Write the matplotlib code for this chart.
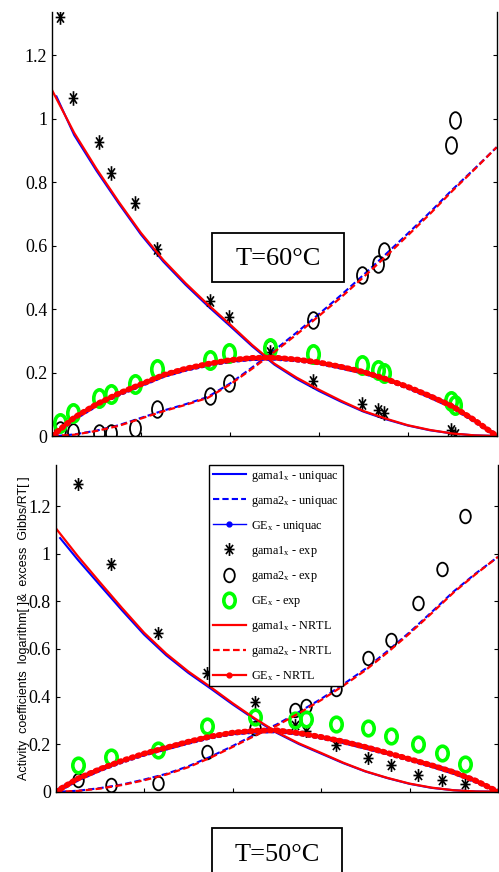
import numpy as np
import matplotlib.pyplot as plt
from matplotlib.lines import Line2D
from matplotlib.patches import Rectangle
from matplotlib.path import Path
from matplotlib.transforms import Affine2D

plt.rcParams['font.family'] = 'Liberation Serif'
plt.rcParams['mathtext.default'] = 'regular'

# Grilles de composition (fraction molaire x)
x_nrtl = [0.00, 0.05, 0.10, 0.15, 0.20, 0.25, 0.30, 0.35, 0.40, 0.45, 0.50,
          0.55, 0.60, 0.65, 0.70, 0.75, 0.80, 0.85, 0.90, 0.95, 1.00]
x_uniq = [0.01, 0.05, 0.10, 0.15, 0.20, 0.25, 0.30, 0.35, 0.40, 0.45, 0.50,
          0.55, 0.60, 0.65, 0.70, 0.75, 0.80, 0.85, 0.90, 0.95, 1.00]

# --- T = 60 C ---
gama1_nrtl_60 = [1.090, 0.955, 0.842, 0.738, 0.640, 0.555, 0.482, 0.415, 0.352, 0.287, 0.228,
                 0.184, 0.146, 0.111, 0.079, 0.055, 0.034, 0.019, 0.008, 0.002, 0.000]
gama2_nrtl_60 = [0.000, 0.004, 0.016, 0.032, 0.055, 0.078, 0.098, 0.120, 0.162, 0.212, 0.265,
                 0.320, 0.378, 0.437, 0.500, 0.565, 0.632, 0.700, 0.772, 0.840, 0.910]
ge_nrtl_60 = [0.000, 0.058, 0.100, 0.134, 0.163, 0.192, 0.212, 0.227, 0.239, 0.246, 0.247,
              0.241, 0.232, 0.218, 0.202, 0.180, 0.155, 0.126, 0.094, 0.050, 0.000]
gama1_uniq_60 = [1.070, 0.948, 0.836, 0.733, 0.635, 0.550, 0.477, 0.410, 0.347, 0.283, 0.225,
                 0.180, 0.142, 0.108, 0.077, 0.053, 0.033, 0.018, 0.008, 0.002, 0.000]
gama2_uniq_60 = [0.000, 0.005, 0.017, 0.034, 0.057, 0.080, 0.100, 0.123, 0.165, 0.216, 0.270,
                 0.326, 0.384, 0.444, 0.507, 0.572, 0.638, 0.705, 0.776, 0.842, 0.910]
ge_uniq_60 = [0.010, 0.056, 0.098, 0.132, 0.161, 0.190, 0.210, 0.225, 0.237, 0.244, 0.245,
              0.240, 0.231, 0.217, 0.201, 0.179, 0.154, 0.125, 0.093, 0.049, 0.000]

x_exp_60 = [0.018, 0.047, 0.106, 0.133, 0.187, 0.235, 0.355, 0.398, 0.490, 0.587,
            0.697, 0.732, 0.747, 0.897, 0.907]
gama1_exp_60 = [1.320, 1.065, 0.925, 0.830, 0.735, 0.590, 0.425, 0.376, 0.265, 0.173,
                0.100, 0.082, 0.072, 0.018, 0.005]
gama2_exp_60 = [0.018, 0.013, 0.010, 0.010, 0.025, 0.086, 0.127, 0.168, 0.274, 0.365,
                0.507, 0.541, 0.583, 0.917, 0.995]
ge_exp_60 = [0.042, 0.073, 0.120, 0.132, 0.163, 0.211, 0.239, 0.260, 0.276, 0.257,
             0.224, 0.208, 0.199, 0.110, 0.098]

# --- T = 50 C ---
gama1_nrtl_50 = [1.108, 0.990, 0.880, 0.772, 0.668, 0.580, 0.505, 0.440, 0.372, 0.308, 0.250,
                 0.203, 0.163, 0.122, 0.086, 0.058, 0.034, 0.017, 0.006, 0.001, 0.000]
gama2_nrtl_50 = [0.000, 0.003, 0.013, 0.028, 0.048, 0.072, 0.103, 0.143, 0.188, 0.235, 0.278,
                 0.330, 0.385, 0.445, 0.510, 0.585, 0.665, 0.750, 0.838, 0.915, 0.987]
ge_nrtl_50 = [0.000, 0.055, 0.095, 0.130, 0.160, 0.185, 0.210, 0.232, 0.248, 0.256, 0.258,
              0.246, 0.230, 0.211, 0.188, 0.163, 0.137, 0.111, 0.082, 0.046, 0.000]
gama1_uniq_50 = [1.066, 0.975, 0.868, 0.762, 0.660, 0.573, 0.499, 0.434, 0.367, 0.304, 0.247,
                 0.200, 0.160, 0.120, 0.085, 0.057, 0.033, 0.016, 0.006, 0.001, 0.000]
gama2_uniq_50 = [0.000, 0.004, 0.015, 0.030, 0.051, 0.075, 0.107, 0.147, 0.192, 0.240, 0.283,
                 0.335, 0.390, 0.451, 0.516, 0.591, 0.670, 0.755, 0.842, 0.918, 0.987]
ge_uniq_50 = [0.010, 0.053, 0.093, 0.128, 0.158, 0.183, 0.208, 0.230, 0.246, 0.254, 0.256,
              0.245, 0.229, 0.210, 0.187, 0.162, 0.136, 0.110, 0.081, 0.045, 0.000]

x_exp_50 = [0.051, 0.125, 0.232, 0.342, 0.450, 0.541, 0.566, 0.634, 0.705, 0.758,
            0.820, 0.874, 0.925]
gama1_exp_50 = [1.292, 0.957, 0.666, 0.500, 0.378, 0.280, 0.255, 0.196, 0.140, 0.112,
                0.070, 0.049, 0.032]
gama2_exp_50 = [0.049, 0.028, 0.035, 0.166, 0.266, 0.343, 0.360, 0.432, 0.560, 0.637,
                0.794, 0.936, 1.158]
ge_exp_50 = [0.112, 0.144, 0.175, 0.276, 0.315, 0.301, 0.304, 0.284, 0.266, 0.235,
             0.199, 0.161, 0.116]

labels = ['gama1$_x$ - uniquac', 'gama2$_x$ - uniquac', 'GE$_x$ - uniquac',
          'gama1$_x$ - exp', 'gama2$_x$ - exp', 'GE$_x$ - exp',
          'gama1$_x$ - NRTL', 'gama2$_x$ - NRTL', 'GE$_x$ - NRTL']

BLUE = '#0000ff'
RED = '#ff0000'
GREEN = '#00ff00'


def ellipse(ratio):
    """Cercle ecrase (l'image d'origine est etiree verticalement)."""
    return Path.unit_circle().transformed(Affine2D().scale(ratio, 1.0))


def asterisk(ratio):
    """Asterisque 8 branches facon MATLAB."""
    verts, codes = [], []
    for a in np.deg2rad([0, 45, 90, 135]):
        verts += [(ratio * np.cos(a), np.sin(a)), (-ratio * np.cos(a), -np.sin(a))]
        codes += [Path.MOVETO, Path.LINETO]
    return Path(verts, codes)


def trace_panel(ax, d, ratio, ms_star, ms_circ, ms_green, ymax):
    # modele UNIQUAC (dessous)
    ax.plot(x_uniq, d['g1u'], color=BLUE, lw=1.5)
    ax.plot(x_uniq, d['g2u'], color=BLUE, lw=1.5, ls=(0, (3, 1.5)))
    ax.plot(x_uniq, d['geu'], color=BLUE, lw=1.5)
    ax.plot(x_uniq, d['geu'], color=BLUE, lw=3.6, ls=(0, (0.3, 0.9)), dash_capstyle='round')

    # points experimentaux
    ax.plot(d['xe'], d['g1e'], ls='none', marker=asterisk(ratio), color='k',
            ms=ms_star, mew=1.2, mfc='none')
    ax.plot(d['xe'], d['g2e'], ls='none', marker=ellipse(ratio), mec='k', mfc='none',
            ms=ms_circ, mew=1.3)
    ax.plot(d['xe'], d['gee'], ls='none', marker=ellipse(ratio), mec=GREEN, mfc='none',
            ms=ms_green, mew=2.6)

    # modele NRTL (dessus)
    ax.plot(x_nrtl, d['g1n'], color=RED, lw=1.6)
    ax.plot(x_nrtl, d['g2n'], color=RED, lw=1.6, ls=(0, (3, 1.5)))
    ax.plot(x_nrtl, d['gen'], color=RED, lw=1.8)
    ax.plot(x_nrtl, d['gen'], color=RED, lw=4.2, ls=(0, (0.3, 0.8)), dash_capstyle='round')

    ax.set_xlim(0, 1)
    ax.set_ylim(0, ymax)
    ax.set_xticks([0, 0.2, 0.4, 0.6, 0.8, 1.0])
    ax.set_xticklabels([])
    ax.set_yticks([0, 0.2, 0.4, 0.6, 0.8, 1.0, 1.2])
    ax.set_yticklabels(['0', '0.2', '0.4', '0.6', '0.8', '1', '1.2'])
    ax.tick_params(direction='in', length=3, width=0.8, right=True, top=False,
                   labelsize=13, pad=3.5)
    ax.spines['top'].set_visible(False)
    for s in ['left', 'right', 'bottom']:
        ax.spines[s].set_linewidth(1.0)


fig = plt.figure(figsize=(4.99, 8.72), dpi=100)

ax1 = fig.add_axes([0.1042, 0.5, 0.8912, 0.4862])
ax2 = fig.add_axes([0.1116, 0.0921, 0.8864, 0.3746])

d60 = dict(g1u=gama1_uniq_60, g2u=gama2_uniq_60, geu=ge_uniq_60,
           g1n=gama1_nrtl_60, g2n=gama2_nrtl_60, gen=ge_nrtl_60,
           xe=x_exp_60, g1e=gama1_exp_60, g2e=gama2_exp_60, gee=ge_exp_60)
d50 = dict(g1u=gama1_uniq_50, g2u=gama2_uniq_50, geu=ge_uniq_50,
           g1n=gama1_nrtl_50, g2n=gama2_nrtl_50, gen=ge_nrtl_50,
           xe=x_exp_50, g1e=gama1_exp_50, g2e=gama2_exp_50, gee=ge_exp_50)

trace_panel(ax1, d60, 0.66, 10.5, 12, 12.5, 1.336)
trace_panel(ax2, d50, 0.78, 9.3, 9.8, 10.5, 1.373)

ax2.set_ylabel('Activity  coefficients  logarithm[ ]&  excess  Gibbs/RT[ ]',
               family='Liberation Sans', fontsize=9)
ax2.yaxis.set_label_coords(-0.058, 0.5)

# Legende (poignees a la facon MATLAB)
handles = [
    Line2D([], [], color=BLUE, lw=1.5),
    Line2D([], [], color=BLUE, lw=1.5, ls=(0, (3, 1.5))),
    Line2D([], [], color=BLUE, lw=1.0, marker='.', ms=7),
    Line2D([], [], ls='none', marker=asterisk(0.78), color='k', ms=9.3, mew=1.2, mfc='none'),
    Line2D([], [], ls='none', marker=ellipse(0.78), mec='k', mfc='none', ms=9.8, mew=1.3),
    Line2D([], [], ls='none', marker=ellipse(0.78), mec=GREEN, mfc='none', ms=10.5, mew=2.6),
    Line2D([], [], color=RED, lw=1.6),
    Line2D([], [], color=RED, lw=1.6, ls=(0, (3, 1.5))),
    Line2D([], [], color=RED, lw=1.6, marker='.', ms=7),
]
leg = ax2.legend(handles, labels, loc='upper left', bbox_to_anchor=(0.3466, 1.0),
                 fontsize=8.8, frameon=True, fancybox=False, edgecolor='k',
                 framealpha=1, borderpad=0.3, labelspacing=0.82, handlelength=2.7,
                 handletextpad=0.45, borderaxespad=0.0)
leg.get_frame().set_linewidth(1.0)

# Encadres de temperature
fig.add_artist(Rectangle((212 / 499, 1 - 282 / 872), 132 / 499, 49 / 872,
                         transform=fig.transFigure, fill=False, ec='k', lw=1.3))
fig.text(278 / 499, 1 - 259 / 872, 'T=60\u00b0C', fontsize=19, ha='center', va='center')

fig.add_artist(Rectangle((212 / 499, 1 - 880 / 872), 130 / 499, 52 / 872,
                         transform=fig.transFigure, fill=False, ec='k', lw=1.3))
fig.text(277 / 499, 1 - 855 / 872, 'T=50\u00b0C', fontsize=19, ha='center', va='center')

fig.savefig('out.png', dpi=100)
